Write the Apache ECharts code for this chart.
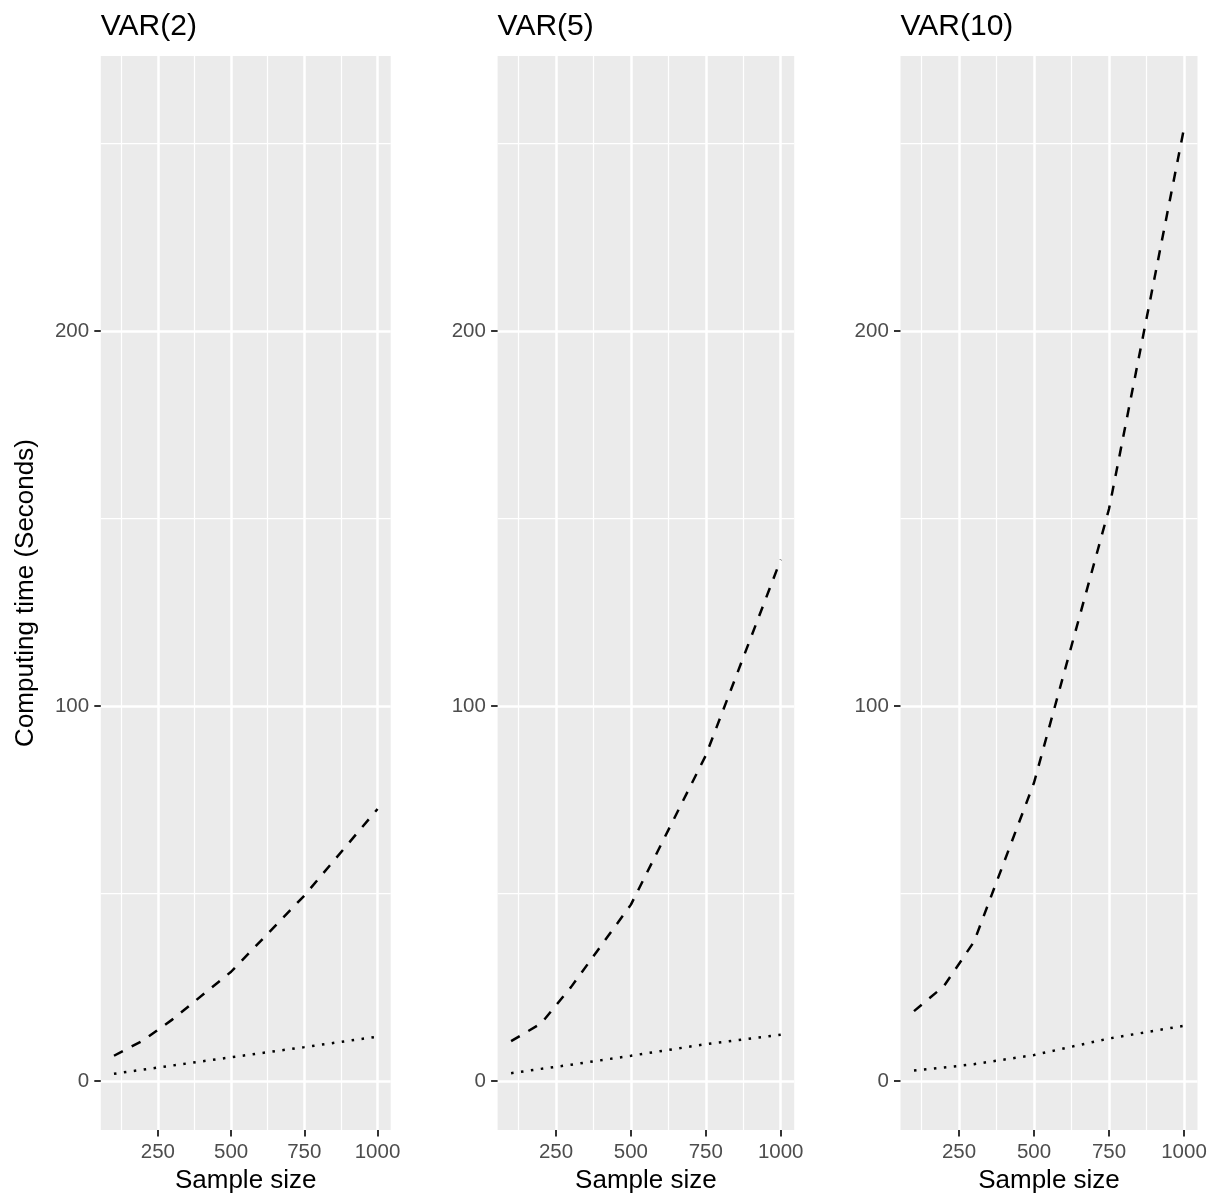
<!DOCTYPE html>
<html>
<head>
<meta charset="utf-8">
<script src="https://cdn.jsdelivr.net/npm/echarts@6/dist/echarts.min.js"></script>
<style>
  html, body { margin: 0; padding: 0; background: #ffffff; }
  #chart { width: 1214px; height: 1197px; }
</style>
</head>
<body>
<div id="chart"></div>
<script>
// Sample sizes at which computing time was measured
const sampleSizes = [100, 200, 300, 500, 750, 1000];

// Computing time in seconds, one pair of series per model order
const var2Dashed  = [6.7, 10.8, 16.4, 29.1, 49.4, 72.5];
const var2Dotted  = [1.9, 3.0, 4.1, 6.3, 9.0, 11.8];
const var5Dashed  = [10.6, 15.3, 25.0, 47.0, 86.8, 139.0];
const var5Dotted  = [2.05, 3.2, 4.3, 6.7, 9.8, 12.3];
const var10Dashed = [18.6, 25.3, 37.1, 79.5, 152.5, 254.0];
const var10Dotted = [2.75, 3.55, 4.45, 6.9, 11.3, 14.7];

const panelTitles = ['VAR(2)', 'VAR(5)', 'VAR(10)'];
const dashedSets = [var2Dashed, var5Dashed, var10Dashed];
const dottedSets = [var2Dotted, var5Dotted, var10Dotted];

// Axis breaks
const xTicks = [250, 500, 750, 1000];
const xMinorTicks = [125, 375, 625, 875];
const yTicks = [0, 100, 200];
const yMinorTicks = [50, 150, 250];

// Panel layout (pixels)
const panelLeft = [100.8, 497.6, 900.5];
const panelWidth = [289.9, 296.6, 297.0];
const panelTop = 56;
const panelHeight = 1074;

const FONT = '"Liberation Sans", Arial, Helvetica, sans-serif';
const X_RANGE = [55, 1045];
const Y_RANGE = [-13.1, 273.3];

const pairs = vals => sampleSizes.map((x, k) => [x, vals[k]]);
const plainNumber = v => String(v);

const grids = [], xAxes = [], yAxes = [], series = [], titles = [];

panelTitles.forEach((title, i) => {
  grids.push({
    left: panelLeft[i], top: panelTop, width: panelWidth[i], height: panelHeight,
    show: true, backgroundColor: '#EBEBEB', borderWidth: 0,
    containLabel: false, outerBoundsMode: 'none'
  });

  titles.push({
    text: title, left: panelLeft[i], top: 12, padding: 0,
    textStyle: { fontSize: 30, fontWeight: 'normal', color: '#000000', fontFamily: FONT }
  });

  // minor x grid (hidden axis, kept on top side)
  xAxes.push({
    type: 'value', gridIndex: i, min: X_RANGE[0], max: X_RANGE[1], position: 'top',
    axisLine: { show: false, onZero: false },
    axisTick: { show: false, customValues: xMinorTicks },
    axisLabel: { show: false },
    splitLine: { show: true, lineStyle: { color: '#FFFFFF', width: 1.25 } }
  });
  // major x axis with ticks, labels and major grid
  xAxes.push({
    type: 'value', gridIndex: i, min: X_RANGE[0], max: X_RANGE[1], position: 'bottom',
    axisLine: { show: false, onZero: false },
    axisTick: { show: true, customValues: xTicks, length: 6.5, lineStyle: { color: '#333333', width: 2 } },
    axisLabel: { customValues: xTicks, formatter: plainNumber, color: '#4D4D4D', fontSize: 20.5, margin: 11.7, fontFamily: FONT },
    splitLine: { show: true, lineStyle: { color: '#FFFFFF', width: 2.5 } },
    name: 'Sample size', nameLocation: 'middle', nameGap: 37,
    nameTextStyle: { fontSize: 26, color: '#000000', fontFamily: FONT }
  });

  // minor y grid (hidden axis, kept on right side)
  yAxes.push({
    type: 'value', gridIndex: i, min: Y_RANGE[0], max: Y_RANGE[1], position: 'right',
    axisLine: { show: false, onZero: false },
    axisTick: { show: false, customValues: yMinorTicks },
    axisLabel: { show: false },
    splitLine: { show: true, lineStyle: { color: '#FFFFFF', width: 1.25 } }
  });
  const yMain = {
    type: 'value', gridIndex: i, min: Y_RANGE[0], max: Y_RANGE[1], position: 'left',
    axisLine: { show: false, onZero: false },
    axisTick: { show: true, customValues: yTicks, length: 6.5, lineStyle: { color: '#333333', width: 2 } },
    axisLabel: { customValues: yTicks, formatter: plainNumber, color: '#4D4D4D', fontSize: 20.5, margin: 11.7, fontFamily: FONT },
    splitLine: { show: true, lineStyle: { color: '#FFFFFF', width: 2.5 } }
  };
  if (i === 0) {
    yMain.name = 'Computing time (Seconds)';
    yMain.nameLocation = 'middle';
    yMain.nameGap = 62;
    yMain.nameTextStyle = { fontSize: 26, color: '#000000', fontFamily: FONT };
  }
  yAxes.push(yMain);

  series.push({
    name: title + ' dashed', type: 'line', xAxisIndex: 2 * i + 1, yAxisIndex: 2 * i + 1,
    data: pairs(dashedSets[i]), symbol: 'none', silent: true, z: 5,
    lineStyle: { color: '#000000', width: 2.5, type: [10, 10], cap: 'butt' }
  });
  series.push({
    name: title + ' dotted', type: 'line', xAxisIndex: 2 * i + 1, yAxisIndex: 2 * i + 1,
    data: pairs(dottedSets[i]), symbol: 'none', silent: true, z: 5,
    lineStyle: { color: '#000000', width: 2.5, type: [2.5, 7.5], cap: 'butt' }
  });
});

const chart = echarts.init(document.getElementById('chart'), null, { renderer: 'canvas' });
chart.setOption({
  animation: false,
  backgroundColor: '#FFFFFF',
  title: titles,
  grid: grids,
  xAxis: xAxes,
  yAxis: yAxes,
  series: series
});
</script>
</body>
</html>
